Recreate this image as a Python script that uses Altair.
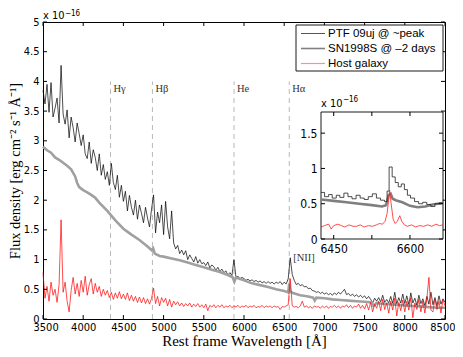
import altair as alt
import pandas as pd

# ---------------- data (flux in units of 1e-16 erg cm^-2 s^-1 A^-1) ----------------
WAVE_START, WAVE_STEP = 3500, 25

PTF_FLUX = [
    3.85, 3.62, 3.95, 3.48, 3.98, 3.40, 3.55, 3.72, 3.30, 4.27, 3.45, 3.28, 3.52, 3.05, 3.40, 3.22, 2.98, 3.30, 3.12, 2.92,
    3.10, 2.78, 2.70, 2.98, 2.62, 2.85, 2.72, 2.50, 2.78, 2.42, 2.60, 2.35, 2.48, 2.25, 2.62, 2.30, 2.18, 2.42, 2.05, 2.25,
    1.98, 2.15, 1.82, 2.08, 1.88, 1.75, 2.00, 1.68, 1.92, 1.78, 1.62, 1.88, 1.70, 1.55, 1.85, 2.09, 1.45, 1.80, 1.62, 1.92,
    1.42, 1.98, 1.55, 1.35, 1.82, 1.28, 1.18, 1.24, 1.10, 1.16, 1.08, 1.15, 1.00, 1.08, 1.02, 0.96, 1.05, 0.94, 1.00, 0.93,
    0.95, 0.90, 0.96, 0.86, 0.91, 0.88, 0.82, 0.87, 0.80, 0.84, 0.78, 0.81, 0.74, 0.78, 0.73, 1.00, 0.70, 0.72, 0.68, 0.70,
    0.68, 0.65, 0.67, 0.64, 0.66, 0.63, 0.65, 0.62, 0.64, 0.61, 0.63, 0.60, 0.63, 0.60, 0.62, 0.59, 0.62, 0.60, 0.63, 0.58,
    0.62, 0.59, 0.68, 1.03, 0.75, 0.65, 0.58, 0.60, 0.56, 0.58, 0.54, 0.55, 0.51, 0.52, 0.48, 0.47, 0.45, 0.46, 0.43, 0.45,
    0.42, 0.44, 0.41, 0.43, 0.40, 0.44, 0.41, 0.45, 0.42, 0.46, 0.50, 0.41, 0.43, 0.39, 0.42, 0.38, 0.41, 0.37, 0.40, 0.36,
    0.39, 0.34, 0.38, 0.33, 0.27, 0.35, 0.30, 0.36, 0.29, 0.40, 0.28, 0.33, 0.27, 0.38, 0.26, 0.45, 0.25, 0.36, 0.27, 0.42,
    0.26, 0.39, 0.24, 0.44, 0.27, 0.35, 0.23, 0.40, 0.26, 0.34, 0.22, 0.38, 0.25, 0.45, 0.24, 0.36, 0.22, 0.39, 0.25, 0.34,
    0.28,
]

HOST_FLUX = [
    0.78, 0.35, 0.55, 0.30, 0.62, 0.40, 0.50, 0.28, 0.58, 1.67, 0.45, 0.62, 0.30, 0.12, 0.48, 0.70, 0.42, 0.60, 0.38, 0.65,
    0.45, 0.72, 0.40, 0.58, 0.68, 0.42, 0.60, 0.45, 0.55, 0.38, 0.50, 0.40, 0.48, 0.36, 0.45, 0.33, 0.44, 0.35, 0.46, 0.34,
    0.42, 0.33, 0.44, 0.31, 0.40, 0.30, 0.38, 0.28, 0.37, 0.27, 0.36, 0.26, 0.34, 0.25, 0.35, 0.52, 0.26, 0.38, 0.22, 0.36,
    0.28, 0.35, 0.22, 0.33, 0.20, 0.30, 0.24, 0.29, 0.22, 0.27, 0.21, 0.26, 0.22, 0.27, 0.20, 0.25, 0.21, 0.26, 0.20, 0.24,
    0.19, 0.25, 0.14, 0.23, 0.20, 0.24, 0.19, 0.23, 0.20, 0.24, 0.19, 0.22, 0.20, 0.23, 0.19, 0.22, 0.20, 0.23, 0.19, 0.22,
    0.20, 0.23, 0.19, 0.22, 0.20, 0.23, 0.19, 0.21, 0.20, 0.23, 0.19, 0.22, 0.20, 0.22, 0.19, 0.22, 0.20, 0.21, 0.16, 0.21,
    0.20, 0.22, 0.24, 0.68, 0.22, 0.20, 0.21, 0.19, 0.22, 0.30, 0.20, 0.22, 0.19, 0.21, 0.18, 0.22, 0.20, 0.21, 0.18, 0.22,
    0.19, 0.22, 0.18, 0.21, 0.20, 0.23, 0.19, 0.22, 0.18, 0.22, 0.20, 0.24, 0.19, 0.23, 0.18, 0.22, 0.20, 0.25, 0.18, 0.23,
    0.17, 0.26, 0.15, 0.28, 0.12, 0.25, 0.18, 0.30, 0.14, 0.33, 0.16, 0.27, 0.10, 0.30, 0.15, 0.35, 0.05, 0.28, 0.14, 0.32,
    0.12, 0.30, 0.15, 0.36, 0.02, 0.27, 0.16, 0.33, 0.12, 0.30, 0.10, 0.35, 0.70, 0.15, 0.12, 0.34, 0.16, 0.30, 0.10, 0.33,
    0.22,
]

SN_WAVE = [3500, 3550, 3600, 3650, 3700, 3750, 3800, 3850, 3900, 3925, 3950, 4000, 4050, 4100, 4150,
           4200, 4300, 4400, 4500, 4600, 4700, 4800, 4850, 4870, 4890, 4950, 5000, 5100, 5200, 5300,
           5400, 5500, 5600, 5700, 5800, 5860, 5880, 5900, 6000, 6100, 6200, 6300, 6400, 6500, 6550,
           6563, 6575, 6600, 6700, 6800, 6860, 6880, 6900, 7000, 7100, 7200, 7300, 7400, 7500, 7590,
           7610, 7650, 7700, 7800, 7900, 8000, 8100, 8200, 8300, 8400, 8500]
SN_FLUX = [2.90, 2.84, 2.80, 2.72, 2.68, 2.63, 2.58, 2.52, 2.40, 2.29, 2.22, 2.17, 2.13, 2.09, 2.04,
           1.96, 1.82, 1.66, 1.52, 1.42, 1.33, 1.22, 1.16, 1.19, 1.10, 1.06, 1.05, 1.02, 0.99, 0.95,
           0.91, 0.87, 0.83, 0.79, 0.74, 0.70, 0.63, 0.70, 0.65, 0.60, 0.57, 0.54, 0.50, 0.47, 0.45,
           0.60, 0.47, 0.44, 0.40, 0.38, 0.36, 0.31, 0.36, 0.35, 0.33, 0.32, 0.31, 0.30, 0.29, 0.28,
           0.22, 0.27, 0.26, 0.25, 0.24, 0.23, 0.22, 0.21, 0.20, 0.19, 0.19]

# inset (zoom on H-alpha)
INSET_PTF_WAVE = [6425, 6432, 6440, 6447, 6455, 6462, 6470, 6478, 6486, 6494, 6502, 6510, 6518, 6526, 6534, 6542,
                  6550, 6555, 6559, 6565, 6571, 6577, 6583, 6589, 6595, 6601, 6609, 6617, 6625, 6633, 6641, 6649,
                  6657, 6665]
INSET_PTF_FLUX = [0.66, 0.60, 0.63, 0.58, 0.62, 0.59, 0.65, 0.60, 0.57, 0.62, 0.58, 0.56, 0.60, 0.64, 0.58, 0.55,
                  0.53, 0.68, 1.02, 0.88, 0.80, 0.74, 0.78, 0.70, 0.62, 0.58, 0.53, 0.50, 0.52, 0.49, 0.46, 0.50,
                  0.51, 0.51]
INSET_SN_WAVE = [6425, 6450, 6475, 6500, 6525, 6545, 6553, 6558, 6562, 6566, 6572, 6585, 6600, 6615, 6630, 6645, 6665]
INSET_SN_FLUX = [0.56, 0.54, 0.52, 0.50, 0.48, 0.46, 0.48, 0.62, 0.64, 0.57, 0.55, 0.52, 0.47, 0.45, 0.46, 0.49, 0.51]
INSET_HOST_WAVE = [6425, 6432, 6440, 6445, 6450, 6458, 6465, 6472, 6480, 6488, 6495, 6502, 6510, 6518, 6526, 6534,
                   6540, 6546, 6551, 6555, 6558, 6560, 6563, 6567, 6571, 6575, 6580, 6584, 6589, 6595, 6603, 6611,
                   6619, 6627, 6635, 6643, 6651, 6658, 6665]
INSET_HOST_FLUX = [0.17, 0.19, 0.21, 0.14, 0.19, 0.21, 0.19, 0.17, 0.20, 0.18, 0.18, 0.20, 0.17, 0.19, 0.18, 0.20,
                   0.22, 0.21, 0.25, 0.36, 0.55, 0.69, 0.50, 0.28, 0.22, 0.25, 0.33, 0.25, 0.20, 0.18, 0.20, 0.17,
                   0.19, 0.18, 0.20, 0.18, 0.21, 0.19, 0.20]

LINE_WAVES = [4340, 4861, 5876, 6563]
LINE_LABELS = ["H\u03b3", "H\u03b2", "He", "H\u03b1"]
LINE_TOP = 4.0
LINE_LABEL_Y = 3.88
NII_WAVE, NII_Y, NII_LABEL = 6563, 1.03, "[NII]"

SERIES = ["PTF 09uj @ ~peak", "SN1998S @ \u20132 days", "Host galaxy"]

XLIM = [3500, 8500]
YLIM = [0, 5]
X_TICKS = [3500, 4000, 4500, 5000, 5500, 6000, 6500, 7000, 7500, 8000, 8500]
Y_TICKS = [0, 0.5, 1, 1.5, 2, 2.5, 3, 3.5, 4, 4.5, 5]
INSET_XLIM = [6425, 6665]
INSET_YLIM = [0, 1.8]
INSET_X_LABELS = [6450, 6600]
INSET_X_TICKS = [6450, 6525, 6600]
INSET_Y_TICKS = [0, 0.5, 1, 1.5]

# ---------------- layout ----------------
W, H = 402, 297
IX0, IX1 = 278, 400       # inset pixel box inside the plot area
IY0, IY1 = 90, 217
TICK = 4
SANS = "Liberation Sans Narrow, DejaVu Sans Condensed, Liberation Sans, Arial, sans-serif"
LEG_FONT = "Liberation Sans, Arial, sans-serif"
SERIF = "Liberation Serif, Times New Roman, serif"

assert len(PTF_FLUX) == len(HOST_FLUX)
wave = [WAVE_START + i * WAVE_STEP for i in range(len(PTF_FLUX))]
ptf_df = pd.DataFrame({"wave": wave, "flux": PTF_FLUX})
host_df = pd.DataFrame({"wave": wave, "flux": HOST_FLUX})
sn_df = pd.DataFrame({"wave": SN_WAVE, "flux": SN_FLUX})
lines_df = pd.DataFrame({"wave": LINE_WAVES, "label": LINE_LABELS,
                         "y0": [0] * len(LINE_WAVES), "y1": [LINE_TOP] * len(LINE_WAVES),
                         "ylab": [LINE_LABEL_Y] * len(LINE_WAVES)})
nii_df = pd.DataFrame({"wave": [NII_WAVE], "y": [NII_Y], "label": [NII_LABEL]})
one = pd.DataFrame({"a": [0]})

x_axis = alt.Axis(values=X_TICKS, format="d", labelFont=SANS, labelFontSize=11, labelColor="black",
                  labelPadding=2, ticks=False, domain=False, grid=False,
                  labelFlush=True, labelFlushOffset=10,
                  titleFont=SERIF, titleFontSize=15, titleFontWeight="normal", titleColor="black",
                  titlePadding=1)
y_axis = alt.Axis(values=Y_TICKS, format="~g", labelFont=SANS, labelFontSize=11, labelColor="black",
                  labelPadding=4, ticks=False, domain=False, grid=False, labelFlush=False,
                  titleFont=SERIF, titleFontSize=14.5, titleFontWeight="normal", titleColor="black",
                  titlePadding=1)
XTITLE = "Rest frame Wavelength [\u00c5]"
YTITLE = "Flux density [erg cm\u207b\u00b2  s\u207b\u00b9  \u00c5\u207b\u00b9]"
xs = alt.Scale(domain=XLIM, nice=False, zero=False)
ys = alt.Scale(domain=YLIM, nice=False, zero=False)


def mx(f):
    return alt.X(f, type="quantitative", scale=xs, axis=x_axis, title=XTITLE)


def my(f):
    return alt.Y(f, type="quantitative", scale=ys, axis=y_axis, title=YTITLE)


ix_axis = alt.Axis(values=INSET_X_LABELS, format="d", orient="bottom", offset=-(H - IY1),
                   labelFont=SANS, labelFontSize=12, labelColor="black", labelPadding=4,
                   ticks=False, domain=False, grid=False, labelFlush=False, title=None)
iy_axis = alt.Axis(values=INSET_Y_TICKS, format="~g", orient="left", offset=-IX0,
                   labelFont=SANS, labelFontSize=12, labelColor="black", labelPadding=4,
                   ticks=False, domain=False, grid=False, labelFlush=False, title=None)
ixs = alt.Scale(domain=INSET_XLIM, range=[IX0, IX1], nice=False, zero=False)
iys = alt.Scale(domain=INSET_YLIM, range=[IY1, IY0], nice=False, zero=False)


def ix(f):
    return alt.X(f, type="quantitative", scale=ixs, axis=ix_axis)


def iy(f):
    return alt.Y(f, type="quantitative", scale=iys, axis=iy_axis)


# ---------------- main panel ----------------
rules = alt.Chart(lines_df).mark_rule(color="#b8b8b8", strokeDash=[5, 4], strokeWidth=1).encode(
    x=mx("wave"), y=my("y0"), y2="y1")
line_labels = alt.Chart(lines_df).mark_text(align="left", baseline="middle", dx=3, font=SERIF,
                                            fontSize=10.5, color="#333").encode(
    x=mx("wave"), y=my("ylab"), text="label:N")
nii_label = alt.Chart(nii_df).mark_text(align="left", baseline="middle", dx=4, font=SERIF,
                                        fontSize=10.5, color="#333").encode(
    x=mx("wave"), y=my("y"), text="label:N")
black = alt.Chart(ptf_df).mark_line(color="#000000", strokeWidth=0.7).encode(x=mx("wave"), y=my("flux"))
gray = alt.Chart(sn_df).mark_line(color="#a0a0a0", strokeWidth=2.6).encode(x=mx("wave"), y=my("flux"))
red = alt.Chart(host_df).mark_line(color="#ff0000", strokeWidth=0.7).encode(x=mx("wave"), y=my("flux"))

xt = pd.DataFrame({"v": X_TICKS})
yt = pd.DataFrame({"v": Y_TICKS})
ticks = [
    alt.Chart(xt).mark_rule(color="black").encode(x=mx("v"), y=alt.value(H), y2=alt.value(H - TICK)),
    alt.Chart(xt).mark_rule(color="black").encode(x=mx("v"), y=alt.value(0), y2=alt.value(TICK)),
    alt.Chart(yt).mark_rule(color="black").encode(y=my("v"), x=alt.value(0), x2=alt.value(TICK)),
    alt.Chart(yt).mark_rule(color="black").encode(y=my("v"), x=alt.value(W), x2=alt.value(W - TICK)),
]

# scale note
exp_main = [
    alt.Chart(one).mark_text(text="x 10", align="left", baseline="alphabetic", font=SANS, fontSize=11,
                             color="black").encode(x=alt.value(0), y=alt.value(-3)),
    alt.Chart(one).mark_text(text="\u221216", align="left", baseline="alphabetic", font=SANS, fontSize=8,
                             color="black").encode(x=alt.value(22), y=alt.value(-6.5)),
]

# legend box
LEG_X0, LEG_X1, LEG_Y0, LEG_Y1 = 253, 400, 3, 49
LEG_COLORS = ["#555555", "#808080", "#ff9090"]
LEG_WIDTHS = [1.0, 1.6, 1.2]
legend = [alt.Chart(one).mark_rect(fill="white", stroke="black", strokeWidth=0.9).encode(
    x=alt.value(LEG_X0), x2=alt.value(LEG_X1), y=alt.value(LEG_Y0), y2=alt.value(LEG_Y1))]
for i, name in enumerate(SERIES):
    yy = LEG_Y0 + 8.5 + 15 * i
    legend.append(alt.Chart(one).mark_rule(color=LEG_COLORS[i], strokeWidth=LEG_WIDTHS[i]).encode(
        x=alt.value(LEG_X0 + 5), x2=alt.value(LEG_X0 + 29), y=alt.value(yy)))
    legend.append(alt.Chart(one).mark_text(text=name, align="left", baseline="middle", font=LEG_FONT,
                                           fontSize=11.5, color="black").encode(
        x=alt.value(LEG_X0 + 32), y=alt.value(yy)))

main = alt.layer(rules, black, gray, red, line_labels, nii_label, *ticks, *exp_main, *legend)

# ---------------- inset ----------------
box_df = pd.DataFrame({"x0": [INSET_XLIM[0]], "x1": [INSET_XLIM[1]], "y0": [INSET_YLIM[0]], "y1": [INSET_YLIM[1]]})
inset_box = alt.Chart(box_df).mark_rect(fill="white", stroke="black", strokeWidth=0.9).encode(
    x=ix("x0"), x2="x1", y=iy("y0"), y2="y1")
i_gray = alt.Chart(pd.DataFrame({"wave": INSET_SN_WAVE, "flux": INSET_SN_FLUX})).mark_line(
    color="#7f7f7f", strokeWidth=2.6).encode(x=ix("wave"), y=iy("flux"))
i_black = alt.Chart(pd.DataFrame({"wave": INSET_PTF_WAVE, "flux": INSET_PTF_FLUX})).mark_line(
    color="#222222", strokeWidth=0.8, interpolate="step-after").encode(x=ix("wave"), y=iy("flux"))
i_red = alt.Chart(pd.DataFrame({"wave": INSET_HOST_WAVE, "flux": INSET_HOST_FLUX})).mark_line(
    color="#ff2020", strokeWidth=0.8).encode(x=ix("wave"), y=iy("flux"))
ixt = pd.DataFrame({"v": INSET_X_TICKS})
iyt = pd.DataFrame({"v": INSET_Y_TICKS})
i_ticks = [
    alt.Chart(ixt).mark_rule(color="black").encode(x=ix("v"), y=alt.value(IY1), y2=alt.value(IY1 - TICK)),
    alt.Chart(ixt).mark_rule(color="black").encode(x=ix("v"), y=alt.value(IY0), y2=alt.value(IY0 + TICK)),
    alt.Chart(iyt).mark_rule(color="black").encode(y=iy("v"), x=alt.value(IX0), x2=alt.value(IX0 + TICK)),
    alt.Chart(iyt).mark_rule(color="black").encode(y=iy("v"), x=alt.value(IX1), x2=alt.value(IX1 - TICK)),
]
exp_inset = [
    alt.Chart(one).mark_text(text="x 10", align="left", baseline="alphabetic", font=SANS, fontSize=11,
                             color="black").encode(x=alt.value(IX0), y=alt.value(IY0 - 5)),
    alt.Chart(one).mark_text(text="\u221216", align="left", baseline="alphabetic", font=SANS, fontSize=8,
                             color="black").encode(x=alt.value(IX0 + 22), y=alt.value(IY0 - 10)),
]
inset = alt.layer(inset_box, i_gray, i_black, i_red, *i_ticks, *exp_inset)

chart = alt.layer(main, inset).resolve_scale(x="independent", y="independent").properties(
    width=W, height=H,
    padding={"left": 35, "top": 14, "right": 10, "bottom": 30},
    autosize=alt.AutoSizeParams(type="none"),
    background="white",
).configure_view(stroke="black", strokeWidth=1)

chart.save("out.html", embed_options={"renderer": "svg", "actions": False})
